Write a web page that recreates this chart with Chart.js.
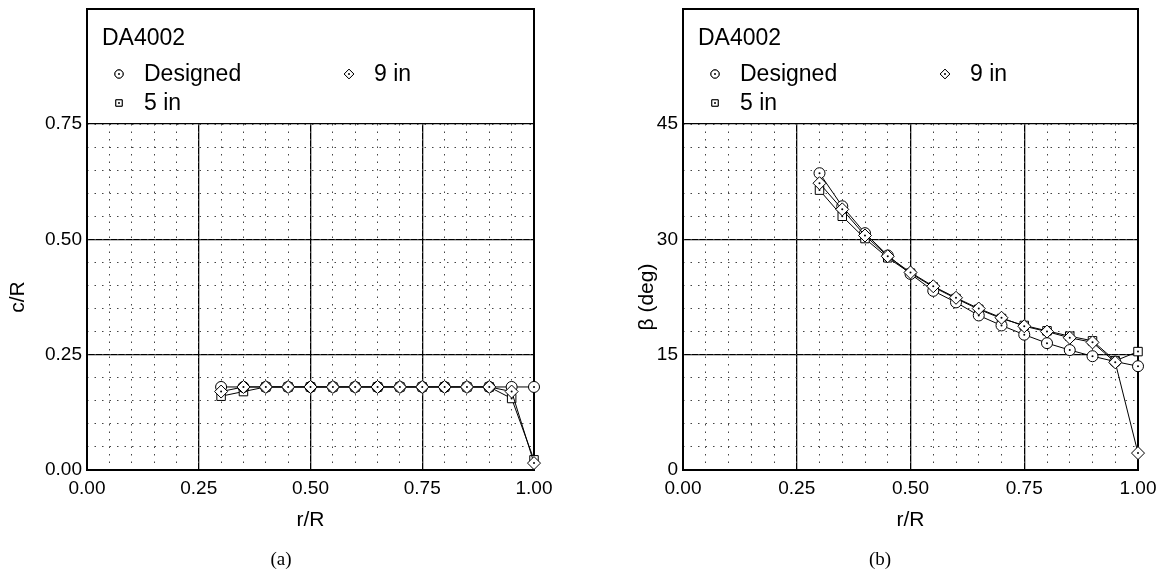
<!DOCTYPE html>
<html lang="en">
<head>
<meta charset="UTF-8">
<title>DA4002 chord and twist distributions</title>
<script src="https://cdn.jsdelivr.net/npm/chart.js"></script>
<style>
  body { margin: 0; background: #fff; }
  #wrap { position: relative; width: 1169px; height: 573px; }
  canvas { position: absolute; top: 0; }
  .cap { position: absolute; top: 548px; width: 60px; text-align: center;
         font-family: 'Liberation Serif', serif; font-size: 19px; line-height: 22px; }
</style>
</head>
<body>
<div id="wrap">
  <canvas id="chordChart" width="584" height="573" style="left:0"></canvas>
  <canvas id="twistChart" width="585" height="573" style="left:584px"></canvas>
  <div class="cap" style="left:251px">(a)</div>
  <div class="cap" style="left:850px">(b)</div>
</div>
<script>
// radial stations r/R
const rR = [0.30, 0.35, 0.40, 0.45, 0.50, 0.55, 0.60, 0.65, 0.70, 0.75, 0.80, 0.85, 0.90, 0.95, 1.00];

// (a) chord distribution c/R
const chordDesigned = [0.18, 0.18, 0.18, 0.18, 0.18, 0.18, 0.18, 0.18, 0.18, 0.18, 0.18, 0.18, 0.18, 0.18, 0.18];
const chord5in      = [0.16, 0.17, 0.18, 0.18, 0.18, 0.18, 0.18, 0.18, 0.18, 0.18, 0.18, 0.18, 0.18, 0.155, 0.022];
const chord9in      = [0.17, 0.18, 0.18, 0.18, 0.18, 0.18, 0.18, 0.18, 0.18, 0.18, 0.18, 0.18, 0.18, 0.17, 0.015];

// (b) twist distribution beta (deg)
const betaDesigned = [38.6, 34.3, 30.8, 27.9, 25.5, 23.3, 21.8, 20.1, 18.8, 17.6, 16.5, 15.6, 14.8, 14.1, 13.5];
const beta5in      = [36.4, 33.0, 30.1, 27.6, 25.6, 23.8, 22.3, 20.9, 19.7, 18.8, 18.1, 17.4, 16.8, 14.2, 15.4];
const beta9in      = [37.3, 33.9, 30.5, 27.8, 25.7, 23.9, 22.4, 21.0, 19.8, 18.7, 18.0, 17.2, 16.6, 14.0, 2.2];

const propName = 'DA4002';
const seriesNames = ['Designed', '5 in', '9 in'];
const seriesShapes = ['circle', 'rect', 'rectRot'];
const seriesRadius = [5.5, 6, 6.5];
const seriesOrder = [1, 2, 0];   // diamonds on top, squares at the back

Chart.defaults.font.family = '"Liberation Sans", Arial, sans-serif';
Chart.defaults.color = '#000';

function series(i, values) {
  return {
    label: seriesNames[i],
    data: rR.map((x, k) => ({ x: x, y: values[k] })),
    xAxisID: 'x',
    yAxisID: 'y',
    order: seriesOrder[i],
    borderColor: '#000',
    borderWidth: 1,
    backgroundColor: '#fff',
    pointStyle: seriesShapes[i],
    pointRadius: seriesRadius[i],
    pointBorderColor: '#000',
    pointBackgroundColor: '#fff',
    pointBorderWidth: 1,
    tension: 0,
    clip: false
  };
}

// small dot in the middle of each marker
const centreDots = {
  id: 'centreDots',
  afterDatasetDraw(chart, args) {
    const ctx = chart.ctx;
    ctx.save();
    ctx.fillStyle = '#000';
    args.meta.data.forEach(p => {
      ctx.beginPath();
      ctx.arc(p.x, p.y, 1, 0, Math.PI * 2);
      ctx.fill();
    });
    ctx.restore();
  }
};

// frame round plot + legend box on top of it
const frameLegend = {
  id: 'frameLegend',
  beforeDatasetsDraw(chart, args, opts) {
    const { ctx, chartArea: a } = chart;
    const top = a.top - opts.boxHeight;
    ctx.save();
    ctx.strokeStyle = '#000';
    ctx.lineWidth = 2;
    ctx.strokeRect(a.left, top, a.right - a.left, a.bottom - top);
    ctx.fillStyle = '#000';
    ctx.font = '23px "Liberation Sans", Arial, sans-serif';
    ctx.textBaseline = 'middle';
    ctx.fillText(opts.title, a.left + 15, top + 30);
    chart.data.datasets.forEach((ds, i) => {
      const col = Math.floor(i / 2), row = i % 2;
      const mx = a.left + 32 + col * 230;
      const my = top + 65 + row * 29;
      ctx.lineWidth = 1;
      ctx.strokeStyle = '#000';
      ctx.fillStyle = '#fff';
      Chart.helpers.drawPoint(ctx, { pointStyle: ds.pointStyle, radius: ds.pointRadius * 0.75, borderWidth: 1, rotation: 0 }, mx, my);
      ctx.fill();
      ctx.stroke();
      ctx.fillStyle = '#000';
      ctx.beginPath();
      ctx.arc(mx, my, 1, 0, Math.PI * 2);
      ctx.fill();
      ctx.fillText(ds.label, mx + 25, my + 1);
    });
    ctx.restore();
  }
};

function minorAxis(axis, max, step) {
  return {
    type: 'linear', axis: axis, position: axis === 'x' ? 'bottom' : 'left',
    min: 0, max: max, z: -1,
    ticks: { display: false, stepSize: step },
    grid: { color: '#444', lineWidth: 1, drawTicks: false },
    border: { display: false, dash: [1.5, 6] },
    afterFit: s => { if (axis === 'x') s.height = 0; else s.width = 0; }
  };
}

function makeChart(id, datasets, yMax, yStep, yMinor, yFmt, yTitle, yTitlePad, yWidth, padRight) {
  return new Chart(document.getElementById(id), {
    type: 'line',
    data: { datasets: datasets },
    options: {
      responsive: false,
      animation: false,
      devicePixelRatio: 1,
      layout: { padding: { left: 0, top: 124, right: padRight, bottom: 0 } },
      plugins: {
        legend: { display: false },
        tooltip: { enabled: false },
        frameLegend: { title: propName, boxHeight: 115 }
      },
      scales: {
        x: {
          type: 'linear', min: 0, max: 1,
          ticks: { stepSize: 0.25, padding: 7, font: { size: 19 }, callback: v => v.toFixed(2) },
          grid: { color: '#000', lineWidth: 1.3, drawTicks: false },
          border: { color: '#000', width: 2 },
          title: { display: true, text: 'r/R', font: { size: 21 }, padding: { top: 0, bottom: 40 } },
          afterFit: s => { s.height = 103; }
        },
        y: {
          type: 'linear', min: 0, max: yMax,
          ticks: { stepSize: yStep, padding: 5, font: { size: 19 }, callback: yFmt },
          grid: { color: '#000', lineWidth: 1.3, drawTicks: false },
          border: { color: '#000', width: 2 },
          title: { display: true, text: yTitle, font: { size: 21 }, padding: { top: yTitlePad, bottom: 0 } },
          afterFit: s => { s.width = yWidth; }
        },
        xMinor: minorAxis('x', 1, 0.05),
        yMinor: minorAxis('y', yMax, yMinor)
      }
    },
    plugins: [frameLegend, centreDots]
  });
}

makeChart('chordChart',
  [series(0, chordDesigned), series(1, chord5in), series(2, chord9in)],
  0.75, 0.25, 0.05, v => v.toFixed(2), 'c/R', 6, 87, 50);

makeChart('twistChart',
  [series(0, betaDesigned), series(1, beta5in), series(2, beta9in)],
  45, 15, 3, v => String(v), 'β (deg)', 51, 99, 31);
</script>
</body>
</html>
